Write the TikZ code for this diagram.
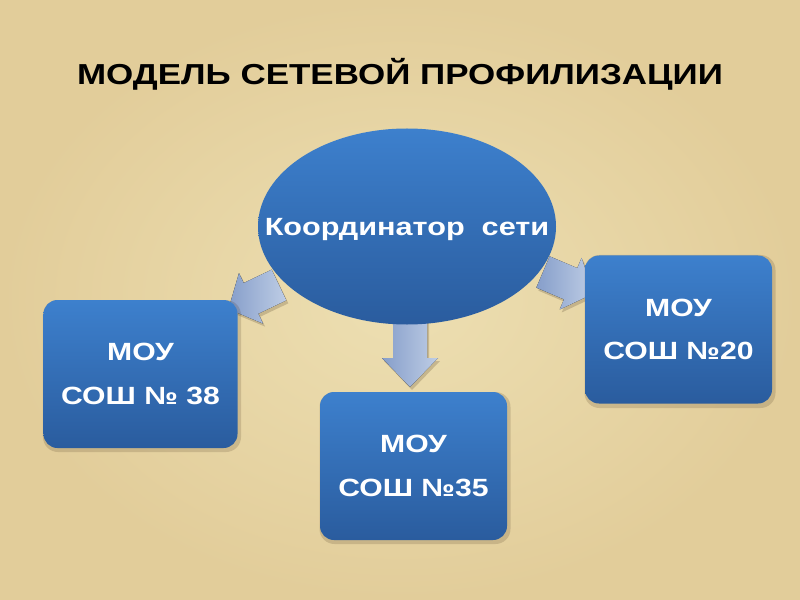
\documentclass[tikz,border=0pt]{standalone}
\usepackage{fontspec}
\setmainfont{Liberation Sans}
\usetikzlibrary{shapes.geometric}
\definecolor{bgin}{RGB}{237,223,178}
\definecolor{bgout}{RGB}{226,205,154}
\definecolor{bluetop}{RGB}{61,128,205}
\definecolor{bluebot}{RGB}{42,92,158}
\definecolor{arrdark}{RGB}{134,158,202}
\definecolor{arrlight}{RGB}{190,205,229}
\newcommand{\arrowoutline}[2]{(0,-17) -- (#1,-17) -- (#1,-28) -- (#2,0) -- (#1,28) -- (#1,17) -- (0,17) -- cycle}
\newcommand{\blockarrow}[4]{%
  \fill[arrowshadow, shift={(#1)}, xshift=2bp, yshift=-3bp, rotate=#2] \arrowoutline{#3}{#4};
  \fill[arrowfill, shift={(#1)}, rotate=#2] \arrowoutline{#3}{#4};}
\begin{document}
\begin{tikzpicture}[x=1bp,y=-1bp,
  titlestyle/.style={inner sep=0pt, anchor=base, font=\fontsize{29}{34}\selectfont\bfseries, text=black},
  hub/.style={ellipse, inner sep=0pt, minimum width=298bp, minimum height=196bp,
    top color=bluetop, bottom color=bluebot},
  hubtext/.style={inner sep=0pt, text=white, text height=18bp, text depth=0bp,
    font=\fontsize{25}{30}\selectfont\bfseries},
  school/.style={rectangle, rounded corners=14bp, inner sep=0pt, minimum height=148bp,
    top color=bluetop, bottom color=bluebot, text=white, align=center,
    font=\fontsize{25}{44}\selectfont\bfseries},
  schoolshadow/.style={rectangle, rounded corners=15bp, inner sep=0pt, minimum height=150bp,
    fill=black!70!brown, fill opacity=0.16},
  arrowshadow/.style={black!70!brown, opacity=0.2},
  arrowfill/.style={left color=arrdark, right color=arrlight}]
\useasboundingbox (0,0) rectangle (800,600);
\shade[inner color=bgin, outer color=bgout] (0,0) rectangle (800,600);
\node[titlestyle] (title) at (400,85) {\scalebox{1.21}[1]{МОДЕЛЬ СЕТЕВОЙ ПРОФИЛИЗАЦИИ}};
% arrow roots
\coordinate (la) at (279,285);
\coordinate (ca) at (410,318);
\coordinate (ra) at (543,272);
\blockarrow{la}{205.5}{31}{56}
\blockarrow{ca}{-90}{40}{69}
\blockarrow{ra}{-23}{30}{55}
\node[hub] (hub) at (407,226.5) {};
\node[hubtext] (hublabel) at (hub.center) {\scalebox{1.23}[1]{Координатор~~сети}};
% soft shadows of boxes
\node[schoolshadow, minimum width=198bp, minimum height=152bp] at (142,376) {};
\node[schoolshadow, minimum width=191bp, minimum height=152bp] at (415,468) {};
\node[schoolshadow, minimum width=191bp, minimum height=153bp] at (680,331.5) {};
\node[school, minimum width=194bp] (s38) at (140.5,374) {\scalebox{1.21}[1]{МОУ}\\\scalebox{1.21}[1]{СОШ № 38}};
\node[school, minimum width=187bp] (s35) at (413.5,466) {\scalebox{1.21}[1]{МОУ}\\\scalebox{1.21}[1]{СОШ №35}};
\node[school, minimum width=187bp] (s20) at (678.5,329.5) {\scalebox{1.21}[1]{МОУ}\\\scalebox{1.21}[1]{СОШ №20}};
\end{tikzpicture}
\end{document}
